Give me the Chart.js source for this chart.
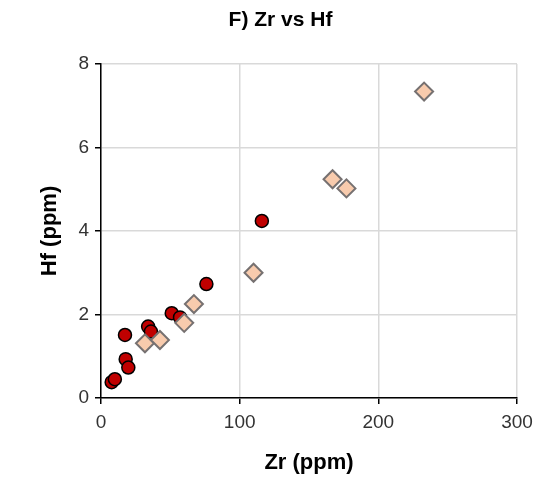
<!DOCTYPE html>
<html lang="en">
<head>
  <meta charset="utf-8" />
  <title>F) Zr vs Hf</title>
  <style>
    html, body { margin: 0; padding: 0; background: #fff; }
    #wrap { width: 537px; height: 483px; }
  </style>
  <script src="https://cdn.jsdelivr.net/npm/chart.js"></script>
</head>
<body>
  <div id="wrap"><canvas id="zrHf"></canvas></div>
  <script>
    // red circles
    const circleZr = [7.7, 10, 17.3, 17.8, 19.7, 34, 36, 51, 57, 76, 116];
    const circleHf = [0.38, 0.45, 1.51, 0.93, 0.73, 1.71, 1.59, 2.03, 1.93, 2.73, 4.24];
    // peach diamonds
    const diamondZr = [31.7, 42.5, 60, 67, 110, 167, 177, 233];
    const diamondHf = [1.31, 1.39, 1.80, 2.25, 3.0, 5.24, 5.02, 7.34];

    const xTicks = [0, 100, 200, 300];
    const yTicks = [0, 2, 4, 6, 8];

    const toPts = (xs, ys) => xs.map((x, i) => ({ x: x, y: ys[i] }));

    const tickFont = { family: 'Liberation Sans', size: 19 };
    const titleFont = { family: 'Liberation Sans', size: 22, weight: 'bold' };

    new Chart(document.getElementById('zrHf'), {
      type: 'scatter',
      data: {
        datasets: [
          {
            label: 'diamonds',
            data: toPts(diamondZr, diamondHf),
            pointStyle: 'rectRot',
            pointRadius: 9,
            pointHoverRadius: 9,
            backgroundColor: '#f8cbad',
            borderColor: '#767171',
            borderWidth: 2,
            order: 0
          },
          {
            label: 'circles',
            data: toPts(circleZr, circleHf),
            pointStyle: 'circle',
            pointRadius: 6.5,
            pointHoverRadius: 6.5,
            backgroundColor: '#c00000',
            borderColor: '#000000',
            borderWidth: 1.5,
            order: 1
          }
        ]
      },
      options: {
        responsive: true,
        maintainAspectRatio: false,
        animation: false,
        layout: { padding: { left: 44, right: 20, top: 0, bottom: 0 } },
        plugins: {
          legend: { display: false },
          tooltip: { enabled: false },
          title: {
            display: true,
            text: 'F) Zr vs Hf',
            color: '#000',
            font: { family: 'Liberation Sans', size: 21, weight: 'bold' },
            padding: { top: 7.4, bottom: 31.4 }
          }
        },
        scales: {
          x: {
            type: 'linear',
            min: 0, max: 300,
            afterBuildTicks: s => { s.ticks = xTicks.map(v => ({ value: v })); },
            afterFit: s => { s.height = 85; s.paddingLeft = 0; s.paddingRight = 0; },
            border: { color: '#000', width: 1.5 },
            grid: { color: '#d9d9d9', lineWidth: 1.5, tickColor: '#000', tickLength: 6 },
            ticks: { color: '#333', font: tickFont, padding: 7, maxRotation: 0 },
            title: { display: true, text: 'Zr (ppm)', color: '#000', font: titleFont, padding: { top: 0, bottom: 6.8 } }
          },
          y: {
            type: 'linear',
            min: 0, max: 8,
            afterBuildTicks: s => { s.ticks = yTicks.map(v => ({ value: v })); },
            afterFit: s => { s.width = 57; },
            border: { color: '#000', width: 1.5 },
            grid: { color: '#d9d9d9', lineWidth: 1.5, tickColor: '#000', tickLength: 6 },
            ticks: { color: '#333', font: tickFont, padding: 6 },
            title: { display: true, text: 'Hf (ppm)', color: '#000', font: titleFont, padding: { top: -7, bottom: 0 } }
          }
        }
      }
    });
  </script>
</body>
</html>
